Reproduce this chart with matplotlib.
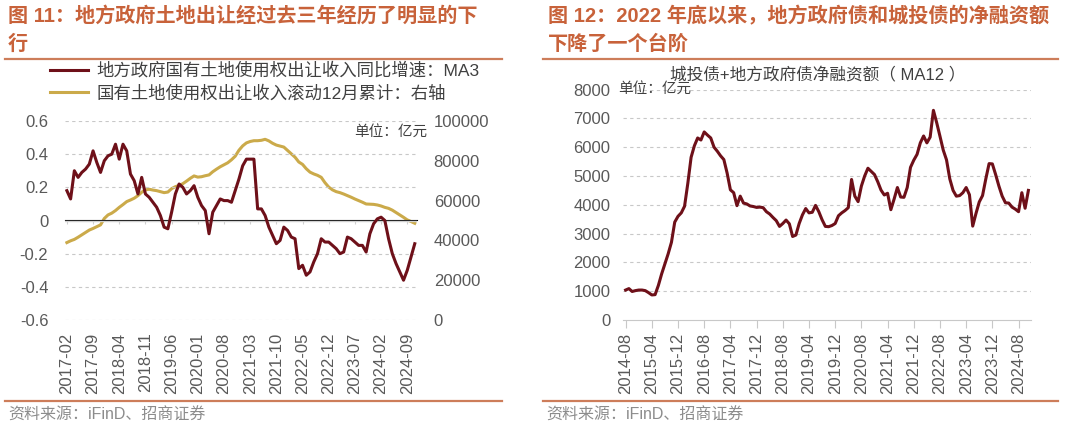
import numpy as np
import pandas as pd
import matplotlib
matplotlib.use("Agg")
import matplotlib.pyplot as plt
from matplotlib.lines import Line2D

plt.rcParams['font.family'] = ['Liberation Sans', 'Noto Sans CJK SC', 'DejaVu Sans']
plt.rcParams['axes.unicode_minus'] = False

# ---- 图11 数据：2017-02 ~ 2024-11，月度 ----
land_months = pd.date_range("2017-02", periods=94, freq="MS").strftime("%Y-%m").tolist()
land_yoy_ma3 = [
    0.18, 0.13, 0.30, 0.26, 0.29, 0.31, 0.34, 0.42, 0.35, 0.29,
    0.36, 0.39, 0.40, 0.46, 0.37, 0.46, 0.42, 0.28, 0.24, 0.16,
    0.26, 0.16, 0.14, 0.11, 0.08, 0.03, -0.04, -0.05, 0.05, 0.16,
    0.22, 0.20, 0.16, 0.18, 0.21, 0.14, 0.09, 0.06, -0.08, 0.05,
    0.09, 0.13, 0.12, 0.12, 0.11, 0.18, 0.25, 0.33, 0.37, 0.37,
    0.37, 0.07, 0.07, 0.03, -0.04, -0.09, -0.14, -0.12, -0.04, -0.06,
    -0.10, -0.11, -0.29, -0.27, -0.33, -0.31, -0.25, -0.20, -0.11, -0.13,
    -0.13, -0.15, -0.17, -0.20, -0.19, -0.10, -0.11, -0.13, -0.15, -0.15,
    -0.19, -0.08, -0.02, 0.01, 0.02, 0.00, -0.11, -0.20, -0.26, -0.31,
    -0.36, -0.30, -0.22, -0.14,
]
land_roll12 = [
    38900, 39800, 40500, 41600, 42800, 44000, 45200, 46000, 46900, 47800,
    51000, 52800, 53700, 55000, 56600, 58000, 59500, 60300, 61200, 62500,
    64200, 65400, 65700, 65300, 65000, 64500, 64000, 64300, 66000, 67000,
    67600, 68500, 69800, 71200, 72400, 71800, 72000, 72500, 72900, 74500,
    75800, 77000, 78000, 79000, 80500, 82300, 85300, 87500, 89000, 89700,
    90100, 90100, 90300, 90800, 90000, 88800, 87900, 87400, 86900, 85200,
    83500, 81800, 79400, 78200, 76000, 74300, 73400, 72700, 71700, 69000,
    66800, 65400, 64500, 64000, 63300, 62500, 61700, 60800, 60000, 59200,
    58300, 58200, 58100, 57800, 57300, 56600, 56100, 55200, 54000, 52800,
    51600, 50300, 49500, 48600,
]

# ---- 图12 数据：2014-08 ~ 2024-11，月度 ----
bond_months = pd.date_range("2014-08", periods=124, freq="MS").strftime("%Y-%m").tolist()
net_financing_ma12 = [
    1040, 1090, 990, 1020, 1040, 1040, 1020, 950, 870, 880,
    1200, 1600, 1950, 2300, 2700, 3400, 3600, 3720, 3950, 4750,
    5650, 6050, 6320, 6250, 6530, 6420, 6320, 6000, 5860, 5700,
    5570, 5100, 4520, 4420, 3970, 4300, 4060, 4030, 3960, 3940,
    3910, 3920, 3900, 3760, 3680, 3560, 3450, 3250, 3350, 3470,
    3340, 2900, 2950, 3350, 3650, 3870, 3720, 3740, 3980, 3760,
    3480, 3250, 3240, 3280, 3350, 3620, 3720, 3800, 3900, 4880,
    4300, 4110, 4650, 5000, 5270, 5160, 5050, 4800, 4510, 4340,
    4400, 3830, 4200, 4600, 4270, 4260, 4600, 5300, 5550, 5750,
    6150, 6390, 6150, 6350, 7280, 6850, 6380, 5900, 5560, 4900,
    4500, 4300, 4320, 4420, 4600, 4350, 3260, 3700, 4100, 4320,
    4900, 5430, 5420, 5050, 4650, 4300, 4070, 4060, 3920, 3850,
    3760, 4420, 3880, 4500,
]

RED = "#6E1019"
GOLD = "#CBAA4A"
TITLE_C = "#C8623A"
RULE_C = "#CD7D5A"
TICK_C = "#595959"
GRID_C = "#C8C8C8"

W, H = 1080, 429
fig = plt.figure(figsize=(W / 100, H / 100), dpi=100)


def rect(x0, y_top, x1, y_bot):
    return [x0 / W, 1 - y_bot / H, (x1 - x0) / W, (y_bot - y_top) / H]


# ---- 标题 / 分隔线 / 来源 ----
fig.text(8 / W, 1 - 16 / H, "图 11：地方政府土地出让经过去三年经历了明显的下", color=TITLE_C,
         fontsize=14.5, fontweight="bold", va="center")
fig.text(8 / W, 1 - 44 / H, "行", color=TITLE_C, fontsize=14.5, fontweight="bold", va="center")
fig.text(548 / W, 1 - 16 / H, "图 12：2022 年底以来，地方政府债和城投债的净融资额", color=TITLE_C,
         fontsize=14.5, fontweight="bold", va="center")
fig.text(548 / W, 1 - 44 / H, "下降了一个台阶", color=TITLE_C, fontsize=14.5, fontweight="bold", va="center")

for x0, x1 in [(5, 502), (543, 1058)]:
    for y in (59, 401):
        fig.add_artist(Line2D([x0 / W, x1 / W], [1 - y / H, 1 - y / H], color=RULE_C, lw=1.6))

fig.text(8 / W, 1 - 415 / H, "资料来源：iFinD、招商证券", color="#8C8C8C", fontsize=11.5, va="center")
fig.text(546 / W, 1 - 415 / H, "资料来源：iFinD、招商证券", color="#8C8C8C", fontsize=11.5, va="center")

# ---- 图11 ----
ax = fig.add_axes(rect(65, 121, 417, 320))
x1 = np.arange(len(land_months))
l1, = ax.plot(x1, land_yoy_ma3, color=RED, lw=2.2, zorder=3,
              label="地方政府国有土地使用权出让收入同比增速：MA3")
ax.set_ylim(-0.6, 0.6)
ax.set_xlim(-0.5, len(land_months) - 0.4)
ax.set_yticks([-0.6, -0.4, -0.2, 0, 0.2, 0.4, 0.6])
ax.set_yticklabels(["-0.6", "-0.4", "-0.2", "0", "0.2", "0.4", "0.6"])
for v in [-0.6, -0.4, -0.2, 0.2, 0.4, 0.6]:
    ax.axhline(v, color=GRID_C, lw=0.8, ls=(0, (3, 3)), zorder=0)
ax.axhline(0, color="#D0D0D0", lw=1.0, zorder=1)
ax.set_xticks(x1[::7])
ax.set_xticklabels(land_months[::7], rotation=90)
ax.tick_params(axis="x", length=0, pad=9, labelsize=12, colors=TICK_C)
ax.tick_params(axis="y", length=0, pad=12, labelsize=12, colors=TICK_C)
for s in ax.spines.values():
    s.set_visible(False)
# 零轴上的刻度
zx = ax.secondary_xaxis(0.5)
zx.set_xticks(x1[::7])
zx.set_xticklabels([])
zx.tick_params(direction="in", length=3, color="#D0D0D0")
zx.spines["bottom"].set_visible(False)

ax2 = ax.twinx()
l2, = ax2.plot(x1, land_roll12, color=GOLD, lw=2.2, zorder=2,
               label="国有土地使用权出让收入滚动12月累计：右轴")
ax2.set_ylim(0, 100000)
ax2.set_yticks(range(0, 100001, 20000))
ax2.tick_params(axis="y", length=0, pad=12, labelsize=12, colors=TICK_C)
for s in ax2.spines.values():
    s.set_visible(False)
ax.set_zorder(ax2.get_zorder() + 1)
ax.patch.set_visible(False)
fig.text(427 / W, 1 - 132 / H, "单位：亿元", ha="right", va="center",
         fontsize=10.5, color="#404040")

fig.legend(handles=[l1, l2], loc="upper left", bbox_to_anchor=(50 / W, 1 - 62 / H),
           frameon=False, fontsize=12.5, handlelength=2.2, handletextpad=0.45,
           labelspacing=0.35, borderaxespad=0, borderpad=0, labelcolor="#404040")

# ---- 图12 ----
bx = fig.add_axes(rect(623, 89.6, 1031, 320))
x2 = np.arange(len(bond_months))
bx.plot(x2, net_financing_ma12, color=RED, lw=2.2, zorder=3)
bx.set_ylim(0, 8000)
bx.set_xlim(-0.8, len(bond_months) - 0.2)
bx.set_yticks(range(0, 8001, 1000))
for v in range(1000, 8001, 1000):
    bx.axhline(v, color=GRID_C, lw=0.8, ls=(0, (3, 3)), zorder=0)
bx.set_xticks(x2[::8])
bx.set_xticklabels(bond_months[::8], rotation=90)
bx.tick_params(axis="x", length=6, width=0.8, pad=3, labelsize=12, colors=TICK_C)
bx.tick_params(axis="x", color="#C8C8C8")
bx.tick_params(axis="y", length=0, pad=9, labelsize=12, colors=TICK_C)
for k in ("top", "right", "left"):
    bx.spines[k].set_visible(False)
bx.spines["bottom"].set_color("#C8C8C8")
fig.text(818 / W, 1 - 75 / H, "城投债+地方政府债净融资额（ MA12 ）",
         ha="center", va="center", fontsize=12, color="#404040")
fig.text(618 / W, 1 - 89 / H, "单位：亿元", ha="left", va="center",
         fontsize=10.5, color="#404040")

fig.savefig("out.png", dpi=100)
